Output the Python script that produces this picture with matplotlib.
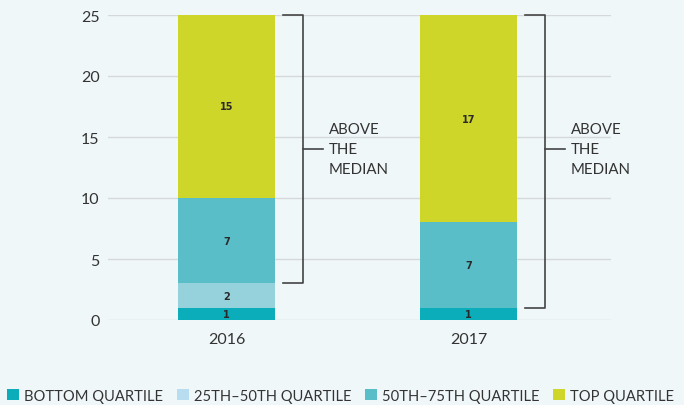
import numpy as np
import matplotlib
matplotlib.use('Agg')
import matplotlib.pyplot as plt
from matplotlib.patches import Patch

plt.rcParams['font.family'] = ['Lato', 'DejaVu Sans']

years = ['2016', '2017']
bottom_q = [1, 1]
q25_50 = [2, 0]
q50_75 = [7, 7]
top_q = [15, 17]
series_names = ['BOTTOM QUARTILE', '25TH\u201350TH QUARTILE', '50TH\u201375TH QUARTILE', 'TOP QUARTILE']
bar_colors = ['#0aadb9', '#96d2db', '#5abec9', '#ced62a']
legend_colors = ['#0aadb9', '#b8ddf0', '#5abec9', '#ced62a']
bracket_text = 'ABOVE\nTHE\nMEDIAN'

bg = '#f0f7f9'
dark = '#333333'

fig = plt.figure(figsize=(6.84, 4.06), dpi=100, facecolor=bg)
ax = fig.add_axes([108 / 684, 85 / 406, 503 / 684, 305 / 406], facecolor=bg)

x = np.arange(len(years))
width = 0.40
base = np.zeros(len(years))
for vals, col in zip([bottom_q, q25_50, q50_75, top_q], bar_colors):
    vals = np.array(vals, dtype=float)
    ax.bar(x, vals, width, bottom=base, color=col, zorder=3, linewidth=0)
    for xi, b, v in zip(x, base, vals):
        if v > 0:
            ax.text(xi, b + v / 2, f'{int(v)}', ha='center', va='center',
                    fontsize=7, fontweight='bold', family='DejaVu Sans',
                    color='#2a2a2a', zorder=4)
    base += vals

# brackets for "above the median"
for xi, lo in zip(x, np.array(bottom_q) + np.array(q25_50)):
    top = base[xi]
    mid = 14
    x0, x1, x2 = xi + 0.235, xi + 0.318, xi + 0.397
    ax.plot([x0, x1, x1, x0], [top, top, lo, lo], color='#444444', lw=1.2,
            clip_on=False, zorder=5)
    ax.plot([x1, x2], [mid, mid], color='#444444', lw=1.2, clip_on=False, zorder=5)
    ax.text(xi + 0.424, mid, bracket_text, ha='left', va='center', fontsize=10.8,
            color=dark, linespacing=1.55)

ax.set_xlim(-0.4897, 1.589)
ax.set_ylim(0, 25)
ax.set_yticks([0, 5, 10, 15, 20, 25])
ax.set_xticks(x)
ax.set_xticklabels(years)
ax.tick_params(axis='both', length=0, labelsize=11.5, colors=dark)
ax.tick_params(axis='y', pad=6)
ax.tick_params(axis='x', pad=9)
ax.yaxis.grid(True, color='#d5d9db', lw=1, zorder=0)
for s in ax.spines.values():
    s.set_visible(False)

handles = [Patch(facecolor=c, edgecolor='none') for c in legend_colors]
fig.legend(handles, series_names, loc='lower left', bbox_to_anchor=(0.0, -0.012),
           ncol=4, frameon=False, fontsize=10.6, handlelength=0.8, handleheight=0.8,
           handletextpad=0.33, columnspacing=0.95, labelcolor=dark, borderaxespad=0.2,
           borderpad=0.3)

plt.savefig('out.png', dpi=100, facecolor=bg)
